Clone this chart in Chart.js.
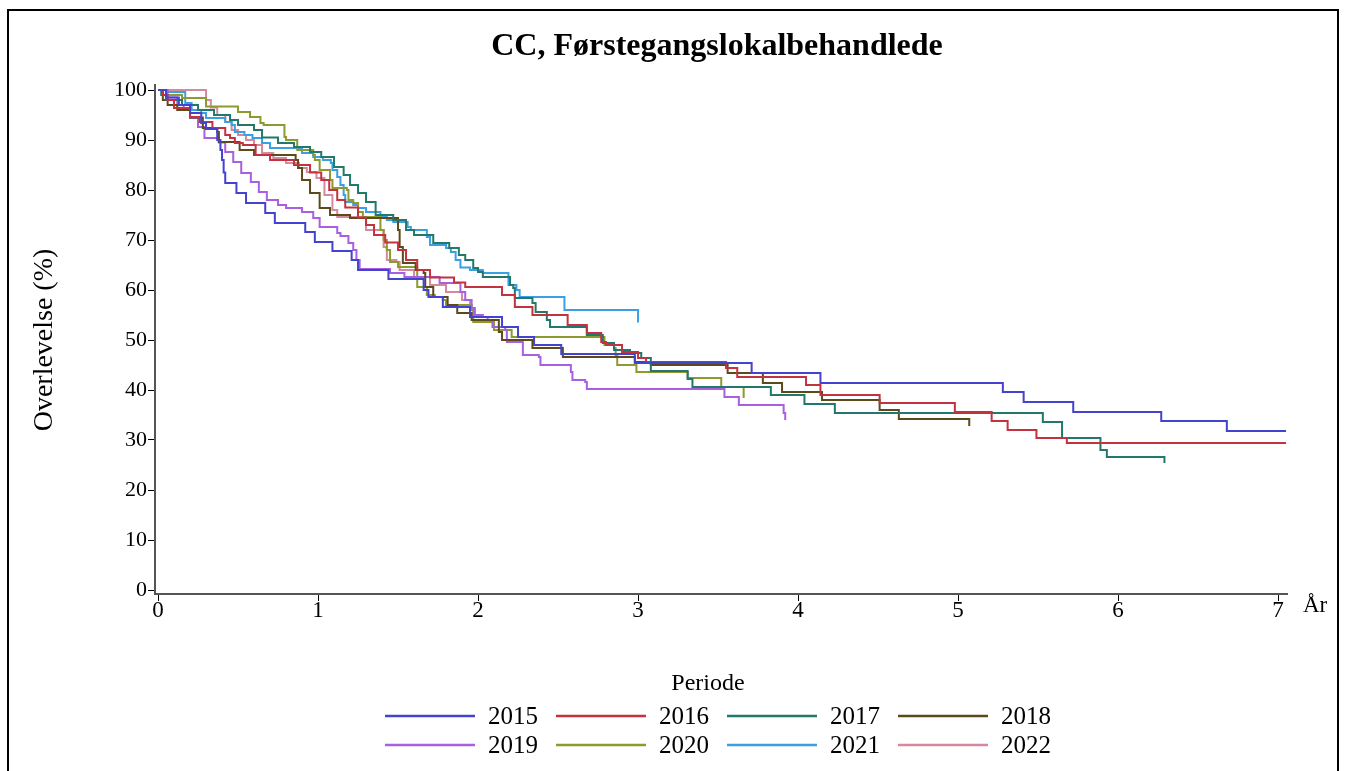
<!DOCTYPE html>
<html>
<head>
<meta charset="utf-8">
<script src="https://cdn.jsdelivr.net/npm/chart.js@4.4.1/dist/chart.umd.min.js"></script>
<style>
  html, body { margin: 0; padding: 0; background: #fff; }
  #wrap { position: relative; width: 1346px; height: 771px; }
  #frame { position: absolute; left: 7px; top: 9px; width: 1332px; height: 800px; border: 2px solid #000; box-sizing: border-box; pointer-events: none; }
</style>
</head>
<body>
<div id="wrap">
  <canvas id="myChart" width="1346" height="771"></canvas>
  <div id="frame"></div>
</div>
<script>
const chartTitle = "CC, Førstegangslokalbehandlede";
const years = ["2015", "2016", "2017", "2018", "2019", "2020", "2021", "2022"];
const colors = ["#4343d0", "#c2323f", "#22786a", "#5c4a1c", "#a85fe0", "#8c9a2e", "#3b9fe3", "#d48a9c"];
const xTicks = [0, 1, 2, 3, 4, 5, 6, 7];
const yTicks = [0, 10, 20, 30, 40, 50, 60, 70, 80, 90, 100];

// time (years) where the curve steps, and survival (%) after the step
const t2015 = [0, 0.05, 0.13, 0.2, 0.27, 0.3, 0.37, 0.39, 0.4, 0.41, 0.42, 0.49, 0.55, 0.67, 0.73, 0.92, 0.98, 1.09, 1.21, 1.25, 1.44, 1.66, 1.69, 1.78, 1.95, 2.15, 2.25, 2.35, 2.52, 2.98, 3.71, 4.14, 5.28, 5.41, 5.72, 6.27, 6.68, 7.05];
const s2015 = [100, 98.5, 97, 95.4, 93.4, 92.2, 90, 88, 86, 83.5, 81.4, 79.4, 77.4, 75.4, 73.4, 71.6, 69.6, 67.8, 66, 64, 62.2, 60, 58.6, 56.6, 54.6, 52.6, 50.6, 49, 47.2, 45.4, 43.4, 41.4, 39.6, 37.6, 35.6, 33.8, 31.8, 31.8];

const t2016 = [0, 0.03, 0.06, 0.1, 0.2, 0.26, 0.34, 0.42, 0.45, 0.48, 0.53, 0.61, 0.7, 0.85, 0.95, 1.02, 1.07, 1.12, 1.17, 1.25, 1.3, 1.35, 1.42, 1.5, 1.55, 1.62, 1.7, 1.85, 1.92, 2.15, 2.23, 2.34, 2.56, 2.68, 2.77, 2.8, 2.9, 3.0, 3.05, 3.55, 3.62, 4.05, 4.14, 4.51, 4.98, 5.21, 5.31, 5.49, 5.68, 7.05];
const s2016 = [100, 99, 98, 96.4, 94.6, 93.6, 92.4, 91, 90.4, 89.4, 89, 87, 86, 85, 83.5, 82, 80, 78, 76.5, 74.5, 73, 71, 69.5, 68, 66, 64, 62.5, 61.5, 60.6, 59, 56.6, 55, 53, 51.4, 49.6, 49, 47.6, 46.4, 45.6, 44.4, 42.6, 41, 39, 37.4, 35.6, 33.8, 32, 30.4, 29.4, 29.4];

const t2017 = [0, 0.02, 0.05, 0.15, 0.25, 0.35, 0.45, 0.5, 0.6, 0.65, 0.75, 0.85, 0.95, 1.02, 1.1, 1.16, 1.2, 1.25, 1.3, 1.36, 1.47, 1.55, 1.6, 1.72, 1.82, 1.88, 1.92, 1.97, 2.0, 2.03, 2.2, 2.22, 2.23, 2.34, 2.36, 2.43, 2.45, 2.68, 2.78, 2.85, 2.95, 3.02, 3.08, 3.31, 3.34, 3.83, 4.04, 4.23, 5.53, 5.65, 5.89, 5.93, 6.29];
const s2017 = [100, 99, 98, 97, 96, 95, 94, 93, 92, 90.5, 89.4, 88.6, 87.6, 86.6, 84.6, 83, 81, 79.4, 77.6, 75, 74, 72, 71, 69.4, 68.4, 67, 66, 64.4, 63.6, 62.6, 61, 60.4, 58.4, 57.4, 55.6, 54, 52.6, 51, 49.4, 48, 47.4, 46.4, 43.8, 42.2, 40.6, 39, 37.2, 35.4, 33.6, 30.4, 28, 26.6, 25.4];

const t2018 = [0, 0.03, 0.06, 0.12, 0.2, 0.28, 0.37, 0.38, 0.51, 0.6, 0.86, 0.875, 0.9, 0.95, 1.01, 1.075, 1.2, 1.5, 1.51, 1.53, 1.61, 1.66, 1.67, 1.72, 1.81, 1.87, 1.96, 2.13, 2.15, 2.34, 2.53, 2.98, 3.08, 3.56, 3.78, 3.9, 4.15, 4.51, 4.63, 5.07];
const s2018 = [100, 98, 97, 96, 94.5, 92.4, 91.6, 89.6, 88, 87, 86, 84.4, 82, 79.4, 76.4, 75, 74.4, 72, 68.6, 65.4, 64, 63.4, 60.6, 58.6, 57, 55.4, 54, 51.6, 50, 48.4, 46.6, 45.6, 45, 43.4, 41.4, 39.6, 38, 36, 34.2, 32.8];

const t2019 = [0, 0.06, 0.12, 0.16, 0.2, 0.25, 0.29, 0.38, 0.42, 0.47, 0.52, 0.58, 0.63, 0.68, 0.75, 0.8, 0.9, 0.97, 1.01, 1.12, 1.14, 1.19, 1.22, 1.24, 1.26, 1.45, 1.54, 1.76, 1.89, 1.92, 1.96, 1.98, 2.03, 2.06, 2.09, 2.17, 2.18, 2.28, 2.38, 2.39, 2.58, 2.59, 2.67, 2.68, 3.54, 3.63, 3.91, 3.92];
const s2019 = [100, 98.5, 97, 96, 94.4, 92.6, 90.4, 89.5, 87.6, 85.6, 83.4, 81.6, 79.6, 78, 77, 76.4, 75.6, 74.4, 72.6, 71.4, 70.8, 69.4, 68, 66, 64.2, 63.4, 62.6, 61.4, 59.6, 58, 56.4, 55, 54.6, 54, 52.6, 52, 49.6, 47, 46.6, 45, 43.6, 42, 41.6, 40.2, 38.6, 37, 35.4, 34];

const t2020 = [0, 0.05, 0.15, 0.3, 0.5, 0.575, 0.64, 0.66, 0.79, 0.8, 0.87, 0.97, 0.98, 1.01, 1.075, 1.09, 1.18, 1.19, 1.22, 1.25, 1.28, 1.39, 1.41, 1.43, 1.45, 1.5, 1.62, 1.68, 1.73, 1.78, 1.8, 1.96, 1.97, 2.1, 2.21, 2.79, 2.85, 2.86, 2.87, 2.99, 3.31, 3.52, 3.66];
const s2020 = [100, 99, 98.4, 96.7, 95.6, 94.6, 93.4, 93, 90.6, 90, 88, 87, 86, 84, 82, 80.4, 80, 78, 77.4, 75.6, 74.6, 72, 70, 68, 65.6, 64.6, 60.6, 59, 58.6, 58, 57, 56, 53.6, 52, 50.6, 49, 48.4, 47, 45, 43.6, 42.4, 40.6, 38.4];

const t2021 = [0, 0.05, 0.17, 0.21, 0.27, 0.3, 0.42, 0.46, 0.48, 0.54, 0.59, 0.65, 0.7, 0.9, 0.97, 1.03, 1.08, 1.09, 1.12, 1.14, 1.16, 1.17, 1.22, 1.25, 1.3, 1.39, 1.43, 1.47, 1.56, 1.58, 1.68, 1.7, 1.8, 1.83, 1.86, 1.89, 1.95, 2.03, 2.19, 2.24, 2.26, 2.54, 3.0];
const s2021 = [100, 99.6, 97.4, 96, 95.4, 94.4, 93.6, 93, 91.6, 91, 90.4, 89.4, 88.4, 87.4, 86.6, 86, 85.4, 84, 82.6, 81, 79, 77.6, 77, 76.4, 75.6, 74.6, 74, 73.6, 72.6, 72, 70.6, 69, 68.4, 67.6, 66, 64.5, 64, 63.4, 61, 60, 58.6, 56, 53.5];

const t2022 = [0, 0.3, 0.33, 0.37, 0.42, 0.46, 0.5, 0.55, 0.6, 0.65, 0.72, 0.8, 0.88, 0.93, 0.99, 1.04, 1.09, 1.12, 1.3, 1.41, 1.43, 1.49, 1.51, 1.6, 1.7, 1.8, 1.9, 1.95];
const s2022 = [100, 98, 96.5, 95, 93.6, 92, 91, 90, 89, 87.4, 86.4, 85.4, 84.4, 83.6, 82.4, 79, 76, 74.6, 72, 68.6, 66, 65.6, 64, 62.6, 61, 59.6, 58, 57];

const times = [t2015, t2016, t2017, t2018, t2019, t2020, t2021, t2022];
const survival = [s2015, s2016, s2017, s2018, s2019, s2020, s2021, s2022];

const fontFamily = "'Liberation Serif', 'DejaVu Serif', serif";

const datasets = years.map(function (year, i) {
  return {
    label: year,
    data: times[i].map(function (t, j) {
      return { x: t, y: survival[i][j] };
    }),
    borderColor: colors[i],
    backgroundColor: colors[i],
    borderWidth: 2,
    pointRadius: 0,
    stepped: true,
    fill: false,
  };
});

// title, axis names and the legend are drawn by hand to sit where the original has them
const decorations = {
  id: "decorations",
  afterDraw(chart) {
    const c = chart.ctx;
    const area = chart.chartArea;
    c.save();
    c.fillStyle = "#000";
    c.textBaseline = "middle";

    c.textAlign = "center";
    c.font = "bold 32px " + fontFamily;
    c.fillText(chartTitle, (area.left + area.right) / 2 - 4, 47);

    c.textAlign = "left";
    c.font = "23px " + fontFamily;
    c.fillText("År", 1303, 606);

    c.save();
    c.translate(45, 340);
    c.rotate(-Math.PI / 2);
    c.textAlign = "center";
    c.font = "28px " + fontFamily;
    c.fillText("Overlevelse (%)", 0, 0);
    c.restore();

    c.textAlign = "center";
    c.font = "24px " + fontFamily;
    c.fillText("Periode", 708, 684);

    c.textAlign = "left";
    c.font = "25px " + fontFamily;
    years.forEach(function (year, i) {
      const x0 = 385 + (i % 4) * 171;
      const y = 716 + Math.floor(i / 4) * 29;
      c.strokeStyle = colors[i];
      c.lineWidth = 2.5;
      c.beginPath();
      c.moveTo(x0, y);
      c.lineTo(x0 + 90, y);
      c.stroke();
      c.fillStyle = "#000";
      c.fillText(year, x0 + 103, y + 1);
    });
    c.restore();
  },
};

const ctx = document.getElementById("myChart");

var chart = new Chart(ctx, {
  type: "line",
  data: { datasets: datasets },
  plugins: [decorations],
  options: {
    responsive: false,
    animation: false,
    devicePixelRatio: 1,
    layout: { padding: { left: 0, right: 59, top: 85, bottom: 0 } },
    plugins: {
      legend: { display: false },
      title: { display: false },
      tooltip: { enabled: false },
    },
    scales: {
      x: {
        type: "linear",
        min: -0.019,
        max: 7.056,
        afterBuildTicks: function (scale) {
          scale.ticks = xTicks.map(function (v) { return { value: v }; });
        },
        afterFit: function (scale) {
          scale.height = 177;
        },
        grid: { drawOnChartArea: false, drawTicks: true, tickLength: 7, color: "#000" },
        border: { display: true, color: "#555", width: 2 },
        ticks: { color: "#000", padding: -4, maxRotation: 0, font: { family: fontFamily, size: 23 } },
      },
      y: {
        min: -0.8,
        max: 101,
        afterBuildTicks: function (scale) {
          scale.ticks = yTicks.map(function (v) { return { value: v }; });
        },
        afterFit: function (scale) {
          scale.width = 155;
        },
        grid: { drawOnChartArea: false, drawTicks: true, tickLength: 7, color: "#000" },
        border: { display: true, color: "#555", width: 2 },
        ticks: { color: "#000", padding: 1, font: { family: fontFamily, size: 22 } },
      },
    },
  },
});
</script>
</body>
</html>
